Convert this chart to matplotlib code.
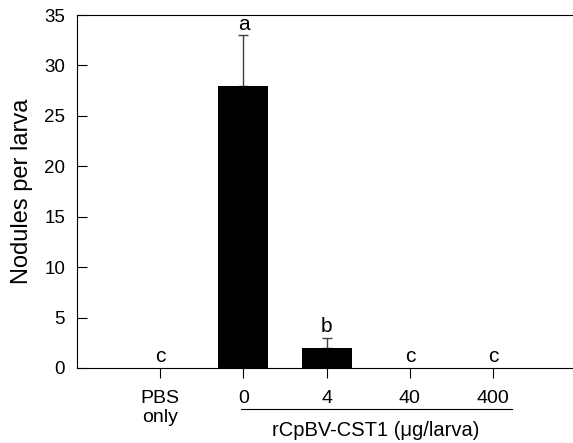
import matplotlib
matplotlib.use('Agg')
import matplotlib.pyplot as plt

plt.rcParams['font.family'] = ['Liberation Sans', 'DejaVu Sans']

# data
groups = ['PBS\nonly', '0', '4', '40', '400']
nodules = [0, 28, 2, 0, 0]
errors = [0, 5, 1, 0, 0]
letters = ['c', 'a', 'b', 'c', 'c']

fig = plt.figure(figsize=(5.73, 4.43), dpi=100)
ax = fig.add_axes([77 / 573, 75 / 443, 496 / 573, 353 / 443])

x = list(range(len(groups)))
ax.bar(x, nodules, width=0.6, color='black', zorder=2)
for xi, v, e in zip(x, nodules, errors):
    if e > 0:
        ax.errorbar(xi, v, yerr=[[0], [e]], fmt='none', ecolor='#404040',
                    elinewidth=1, capsize=3.6, capthick=1, zorder=1)

# significance letters
for xi, v, e, lab in zip(x, nodules, errors, letters):
    ax.text(xi, v + e + 0.55, lab, ha='center', va='baseline', fontsize=15)

ax.set_xlim(-1, 4.96)
ax.set_ylim(0, 35)
ax.set_yticks(range(0, 36, 5))
ax.set_xticks(x)
ax.set_xticklabels(groups, fontsize=14, linespacing=1.2)
ax.tick_params(axis='y', direction='in', length=7, labelsize=13.5, pad=8.5)
ax.tick_params(axis='x', direction='out', length=7, pad=8.5)
ax.spines['right'].set_visible(False)
ax.set_ylabel('Nodules per larva', fontsize=17, labelpad=8)

# group bracket under the dose labels
ax.plot([0.97, 4.23], [-0.116, -0.116], transform=ax.get_xaxis_transform(),
        color='black', lw=0.8, clip_on=False)
ax.text(2.59, -0.176, 'rCpBV-CST1 (\u03bcg/larva)', transform=ax.get_xaxis_transform(),
        ha='center', va='center', fontsize=14.5)

fig.savefig('out.png', dpi=100)
